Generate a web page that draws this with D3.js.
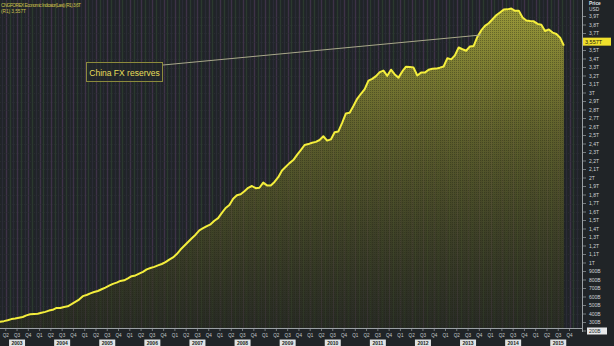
<!DOCTYPE html>
<html>
<head>
<meta charset="utf-8">
<script src="https://cdn.jsdelivr.net/npm/d3@7"></script>
<style>
  html, body { margin: 0; padding: 0; background: #22262a; }
  svg { display: block; font-family: "Liberation Sans", Arial, sans-serif; }
</style>
</head>
<body>
<svg id="chart" width="614" height="346"></svg>
<script>
// China FX reserves, monthly, billion USD (Dec 2002 .. Aug 2015)
var startYear = 2002, startMonth = 12;
var reserves = [
  286,
  300, 310, 316, 326, 340, 346, 356, 365, 384, 396, 400, 403,
  415, 425, 440, 449, 471, 471, 483, 490, 515, 542, 570, 610,
  624, 643, 659, 671, 691, 711, 733, 754, 769, 789, 796, 819,
  845, 854, 875, 895, 925, 941, 954, 972, 988, 1010, 1040, 1066,
  1105, 1158, 1202, 1247, 1292, 1333, 1385, 1409, 1434, 1455, 1497, 1528,
  1590, 1647, 1682, 1757, 1797, 1809, 1845, 1884, 1906, 1880, 1885, 1946,
  1913, 1912, 1954, 2009, 2089, 2132, 2175, 2211, 2273, 2328, 2388, 2399,
  2415, 2425, 2447, 2491, 2440, 2454, 2538, 2548, 2648, 2760, 2768, 2847,
  2932, 2991, 3045, 3145, 3166, 3198, 3245, 3263, 3202, 3274, 3218, 3181,
  3254, 3310, 3305, 3299, 3206, 3240, 3240, 3273, 3285, 3287, 3298, 3312,
  3410, 3396, 3443, 3535, 3515, 3497, 3548, 3553, 3663, 3736, 3789, 3821,
  3867, 3914, 3948, 3981, 3984, 3993, 3967, 3969, 3888, 3853, 3847, 3843,
  3813, 3802, 3730, 3748, 3711, 3694, 3651, 3557
];
var years = d3.range(2003, 2016);
var quarters = ["Q1", "Q2", "Q3", "Q4"];
var yTicks = d3.range(200, 4000, 100);
var lastLabel = "3,557T";
var headerLines = ["CNGFOREX Economic Indicator(Last) (R1) 3,6T", "(R1) 3,557T"];
var noteText = "China FX reserves";

var W = 614, H = 346, plotR = 582, plotB = 328;

var data = reserves.map(function (v, i) {
  var m = startMonth - 1 + i;
  var yr = startYear + Math.floor(m / 12);
  return { t: yr + ((m % 12) + 0.5) / 12, v: v };
});

var x = d3.scaleLinear().domain([2003, 2016]).range([-5.5, 580.8]);
var y = d3.scaleLinear().domain([0, 4000]).range([348, 8]);

function fmt(v) {
  if (v < 1000) return v + "B";
  var t = v / 1000;
  return (t % 1 === 0 ? t : t.toFixed(1)).toString().replace(".", ",") + "T";
}

var svg = d3.select("#chart");
var defs = svg.append("defs");

defs.append("clipPath").attr("id", "plot")
  .append("rect").attr("x", 0).attr("y", 0).attr("width", plotR).attr("height", plotB);

var grad = defs.append("linearGradient").attr("id", "fillGrad")
  .attr("gradientUnits", "userSpaceOnUse")
  .attr("x1", 0).attr("y1", 0).attr("x2", 0).attr("y2", plotB);
grad.append("stop").attr("offset", "0%").attr("stop-color", "#aead3a").attr("stop-opacity", 0.88);
grad.append("stop").attr("offset", "40%").attr("stop-color", "#6f6f2c").attr("stop-opacity", 0.78);
grad.append("stop").attr("offset", "100%").attr("stop-color", "#2c2f1f").attr("stop-opacity", 0.55);

var pat = defs.append("pattern").attr("id", "dots")
  .attr("width", 2).attr("height", 2).attr("patternUnits", "userSpaceOnUse");
pat.append("rect").attr("width", 1).attr("height", 1).attr("fill", "#1c1e12").attr("opacity", 0.35);

svg.append("rect").attr("width", W).attr("height", H).attr("fill", "#202427");

var plot = svg.append("g").attr("clip-path", "url(#plot)");

// background grid
var months = d3.range(2003, 2016, 1 / 12);
plot.selectAll(".vg").data(months).enter().append("line")
  .attr("x1", function (d) { return Math.round(x(d)) + 0.5; })
  .attr("x2", function (d) { return Math.round(x(d)) + 0.5; })
  .attr("y1", 0).attr("y2", plotB)
  .attr("stroke", function (d, i) { return i % 3 === 0 ? "#3e3248" : (i % 3 === 1 ? "#2b3a2e" : "#2a2b36"); })
  .attr("stroke-width", 1.4);
plot.selectAll(".hg").data(yTicks).enter().append("line")
  .attr("x1", 0).attr("x2", plotR)
  .attr("y1", function (d) { return Math.round(y(d)) + 0.5; })
  .attr("y2", function (d) { return Math.round(y(d)) + 0.5; })
  .attr("stroke", "#2e3336").attr("stroke-width", 0.6).attr("stroke-dasharray", "1,1");

var area = d3.area().x(function (d) { return x(d.t); }).y0(plotB).y1(function (d) { return y(d.v); });
var line = d3.line().x(function (d) { return x(d.t); }).y(function (d) { return y(d.v); });

plot.append("path").datum(data).attr("d", area).attr("fill", "url(#fillGrad)");
plot.append("path").datum(data).attr("d", area).attr("fill", "url(#dots)");
plot.append("path").datum(data).attr("d", line)
  .attr("fill", "none").attr("stroke", "#f4ee3c").attr("stroke-width", 2).attr("stroke-linejoin", "round");

// annotation
var anchor = data[data.length - 22];
svg.append("line")
  .attr("x1", 163).attr("y1", 65)
  .attr("x2", x(anchor.t) - 4).attr("y2", 35)
  .attr("stroke", "#a9a88a").attr("stroke-width", 1);
svg.append("rect").attr("x", 86.5).attr("y", 62.5).attr("width", 76).attr("height", 19)
  .attr("fill", "#22262a").attr("fill-opacity", 0.6)
  .attr("stroke", "#8c8a3c").attr("stroke-width", 1);
svg.append("text").attr("x", 124.5).attr("y", 75.5).attr("text-anchor", "middle")
  .attr("font-size", 8.5).attr("fill", "#e6de5a").text(noteText);

// header
svg.selectAll(".hdr").data(headerLines).enter().append("text")
  .attr("x", 1).attr("y", function (d, i) { return 7 + i * 6; })
  .attr("font-size", 4.8).attr("fill", "#c9c04a")
  .attr("textLength", function (d, i) { return i === 0 ? 80 : 25; })
  .text(function (d) { return d; });

// right axis
var last = data[data.length - 1];
var ra = svg.append("g");
ra.append("line").attr("x1", plotR + 0.5).attr("x2", plotR + 0.5).attr("y1", 0).attr("y2", plotB + 4)
  .attr("stroke", "#9aa0a4").attr("stroke-width", 1);
ra.selectAll(".yt").data(yTicks).enter().append("line")
  .attr("x1", plotR + 1).attr("x2", plotR + 4)
  .attr("y1", function (d) { return y(d); }).attr("y2", function (d) { return y(d); })
  .attr("stroke", "#9aa0a4").attr("stroke-width", 0.7);
ra.selectAll(".yl").data(yTicks.filter(function (d) {
    return d > 200 && Math.abs(y(d) - (y(last.v) - 4)) > 7;
  })).enter().append("text")
  .attr("x", plotR + 7).attr("y", function (d) { return y(d) + 1.8; })
  .attr("font-size", 5).attr("fill", "#cfd3d6").text(fmt);
ra.append("text").attr("x", plotR + 7).attr("y", 5).attr("font-size", 4.8).attr("font-weight", "bold").attr("fill", "#e2e4e6").text("Price");
ra.append("text").attr("x", plotR + 7).attr("y", 11).attr("font-size", 4.8).attr("fill", "#cfd3d6").text("USD");
ra.append("rect").attr("x", plotR + 1).attr("y", y(last.v) - 8).attr("width", 28).attr("height", 8).attr("fill", "#f0e02c");
ra.append("text").attr("x", plotR + 3).attr("y", y(last.v) - 2).attr("font-size", 5.5).attr("fill", "#1a1a10").text(lastLabel);
ra.append("rect").attr("x", plotR + 5).attr("y", y(200) - 3.5).attr("width", 20).attr("height", 7).attr("fill", "#e6e8ea");
ra.append("text").attr("x", plotR + 7).attr("y", y(200) + 2).attr("font-size", 5).attr("fill", "#1a1c1e").text(fmt(200));

// bottom axis
var ba = svg.append("g");
ba.append("line").attr("x1", 0).attr("x2", plotR).attr("y1", plotB + 0.5).attr("y2", plotB + 0.5)
  .attr("stroke", "#9aa0a4").attr("stroke-width", 1);
var qs = [];
years.forEach(function (yr) { quarters.forEach(function (q, i) { qs.push({ t: yr + i / 4, q: q }); }); });
qs = qs.filter(function (d) { return x(d.t) > 2 && x(d.t) < plotR - 2; });
ba.selectAll(".qt").data(qs).enter().append("line")
  .attr("x1", function (d) { return x(d.t); }).attr("x2", function (d) { return x(d.t); })
  .attr("y1", plotB).attr("y2", plotB + 3)
  .attr("stroke", "#9aa0a4").attr("stroke-width", 0.7);
ba.selectAll(".ql").data(qs).enter().append("text")
  .attr("x", function (d) { return x(d.t); }).attr("y", 337)
  .attr("text-anchor", "middle").attr("font-size", 4.6).attr("fill", "#c6cacd")
  .text(function (d) { return d.q; });
var yb = ba.selectAll(".yb").data(years).enter().append("g")
  .attr("transform", function (d) { return "translate(" + x(d + 0.5) + ",343)"; });
yb.append("rect").attr("x", -8).attr("y", -3.5).attr("width", 16).attr("height", 7).attr("fill", "#dfe2e4");
yb.append("text").attr("y", 2).attr("text-anchor", "middle").attr("font-size", 5).attr("font-weight", "bold")
  .attr("fill", "#1c1e20").text(function (d) { return d; });
</script>
</body>
</html>
